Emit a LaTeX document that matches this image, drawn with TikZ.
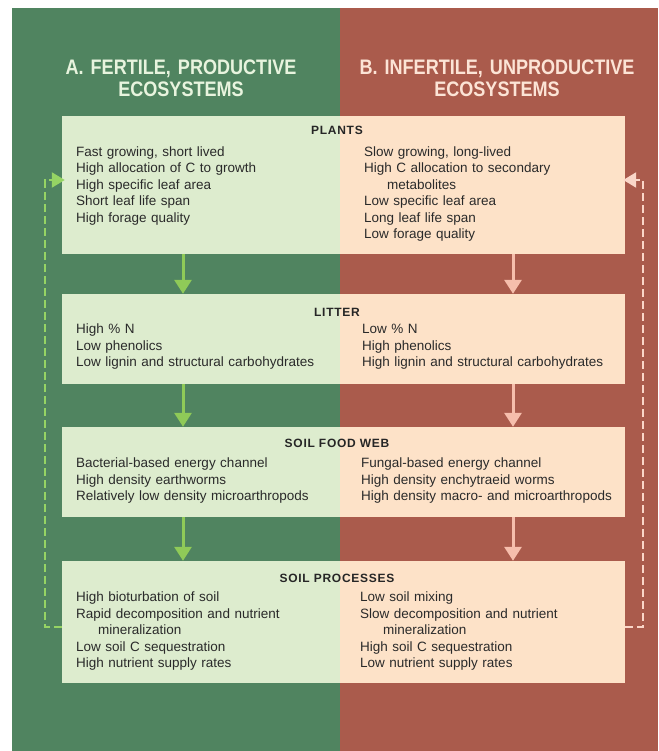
\documentclass[tikz,border=0pt]{standalone}
\usepackage{fontspec}
\setmainfont{Liberation Sans}
\newfontfamily\headfont[FakeStretch=0.86]{Liberation Sans Bold}
\newfontfamily\titlefont[LetterSpace=6]{Liberation Sans Bold}
\usetikzlibrary{arrows.meta}
\definecolor{outgreen}{RGB}{80,132,96}
\definecolor{outred}{RGB}{170,91,76}
\definecolor{boxgreen}{RGB}{221,236,206}
\definecolor{boxpeach}{RGB}{253,226,200}
\definecolor{arrgreen}{RGB}{143,202,88}
\definecolor{arrpink}{RGB}{246,190,172}
\definecolor{dashgreen}{RGB}{150,212,100}
\definecolor{dashpink}{RGB}{250,214,200}
\definecolor{headgreen}{RGB}{232,244,222}
\definecolor{headpink}{RGB}{252,228,214}
\definecolor{txt}{RGB}{42,42,42}
\begin{document}
\begin{tikzpicture}[x=1pt,y=-1pt,
  stagebox/.style={minimum width=563pt, inner sep=0pt, fill=boxpeach,
    path picture={\fill[boxgreen] (path picture bounding box.north west) rectangle ([xshift=-3.5pt]path picture bounding box.south);}},
  col/.style={anchor=base west, inner sep=0pt, text width=262pt, align=left, text=txt,
    font=\fontsize{13.5}{16.5}\selectfont},
  ttl/.style={anchor=base, inner sep=0pt, text=black!85, font=\titlefont\fontsize{12}{14}\selectfont},
  head/.style={anchor=base, inner sep=0pt, text width=320pt, align=center,
    font=\headfont\fontsize{21}{22}\selectfont},
  downarr/.style={#1, line width=3pt, -{Triangle[width=17pt,length=14pt]}},
  backarr/.style={#1, line width=2.2pt, dash pattern=on 8pt off 4pt, -{Triangle[width=15pt,length=13pt]}}
]
\useasboundingbox (0,0) rectangle (658,751);
\fill[white] (0,0) rectangle (658,751);
\fill[outgreen] (12,8) rectangle (340,751);
\fill[outred] (340,8) rectangle (658,751);

% headings
\node[head, text=headgreen] (hA) at (181,75) {A. FERTILE, PRODUCTIVE\\ECOSYSTEMS};
\node[head, text=headpink] (hB) at (497,75) {B. INFERTILE, UNPRODUCTIVE\\ECOSYSTEMS};

% boxes
\node[stagebox, minimum height=138pt] (plants) at (343.5,185) {};
\node[stagebox, minimum height=90pt] (litter) at (343.5,339) {};
\node[stagebox, minimum height=90pt] (foodweb) at (343.5,472) {};
\node[stagebox, minimum height=122pt] (processes) at (343.5,622) {};

% titles
\node[ttl] (tplants) at (337,134.5) {PLANTS};
\node[ttl] (tlitter) at (337,316.5) {LITTER};
\node[ttl] (tfood) at (337,447.5) {SOIL FOOD WEB};
\node[ttl] (tproc) at (337,582.5) {SOIL PROCESSES};

% texts
\node[col] (plL) at (76,156.5) {Fast growing, short lived\\High allocation of C to growth\\High specific leaf area\\Short leaf life span\\High forage quality};
\node[col] (plR) at (364,156.5) {Slow growing, long-lived\\High C allocation to secondary\\\hspace*{23pt}metabolites\\Low specific leaf area\\Long leaf life span\\Low forage quality};
\node[col] (liL) at (76,333.5) {High \% N\\Low phenolics\\Low lignin and structural carbohydrates};
\node[col] (liR) at (362,333.5) {Low \% N\\High phenolics\\High lignin and structural carbohydrates};
\node[col] (fwL) at (76,467.5) {Bacterial-based energy channel\\High density earthworms\\Relatively low density microarthropods};
\node[col] (fwR) at (361,467.5) {Fungal-based energy channel\\High density enchytraeid worms\\High density macro- and microarthropods};
\node[col] (prL) at (76,601.5) {High bioturbation of soil\\Rapid decomposition and nutrient\\\hspace*{22pt}mineralization\\Low soil C sequestration\\High nutrient supply rates};
\node[col] (prR) at (360,601.5) {Low soil mixing\\Slow decomposition and nutrient\\\hspace*{23pt}mineralization\\High soil C sequestration\\Low nutrient supply rates};

% helper coordinates
\coordinate (cl) at (183,0);
\coordinate (cr) at (513,0);
\coordinate (fl) at (45,0);
\coordinate (fr) at (643,0);
\coordinate (lowY) at (0,627);
\coordinate (upY) at (0,180);

% down arrows
\draw[downarr=arrgreen] (plants.south -| cl) -- (litter.north -| cl);
\draw[downarr=arrgreen] (litter.south -| cl) -- (foodweb.north -| cl);
\draw[downarr=arrgreen] (foodweb.south -| cl) -- (processes.north -| cl);
\draw[downarr=arrpink] (plants.south -| cr) -- (litter.north -| cr);
\draw[downarr=arrpink] (litter.south -| cr) -- (foodweb.north -| cr);
\draw[downarr=arrpink] (foodweb.south -| cr) -- (processes.north -| cr);

% feedback dashed arrows
\draw[backarr=dashgreen] (processes.west |- lowY) -- (fl |- lowY) -- (fl |- upY) -- ([xshift=3pt]plants.west |- upY);
\draw[backarr=dashpink] (processes.east |- lowY) -- (fr |- lowY) -- (fr |- upY) -- ([xshift=-2pt]plants.east |- upY);
\end{tikzpicture}
\end{document}
